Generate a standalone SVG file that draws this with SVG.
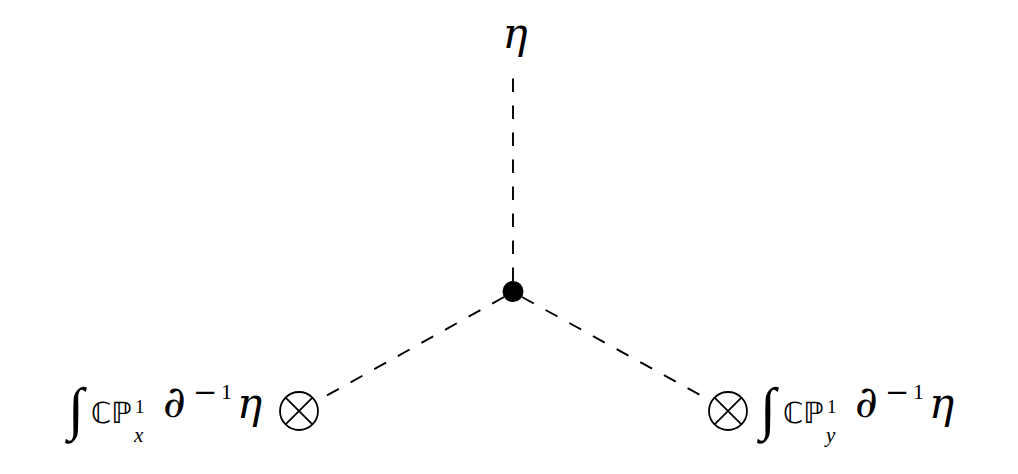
<svg xmlns="http://www.w3.org/2000/svg" width="1018" height="474" viewBox="0 0 1018 474">
<style>
.dash{stroke:#000;stroke-width:1.9;stroke-dasharray:13.5 13.5;fill:none}
.ot{stroke:#000;stroke-width:1.8;fill:#fff}
.m{font-family:"Liberation Serif","DejaVu Serif",serif;fill:#000}
.g{font-family:"DejaVu Serif",serif;font-style:italic;fill:#000}
.i{font-style:italic}
.bb{font-family:"DejaVu Sans",sans-serif;fill:#000}
</style>
<rect width="1018" height="474" fill="#fff"/>
<g id="connectors">
<line class="dash" x1="513" y1="281" x2="513" y2="73"/>
<line class="dash" x1="504" y1="297" x2="317" y2="401"/>
<line class="dash" x1="522" y1="297" x2="711" y2="401"/>
</g>
<g id="vertex">
<circle cx="513" cy="291.5" r="10.5" fill="#000"/>
</g>
<g id="top-label">
<text class="g" x="515" y="48" font-size="42" text-anchor="middle">η</text>
</g>
<g id="left-node">
<circle class="ot" cx="299" cy="411" r="19"/>
<path d="M285.6 397.6L312.4 424.4M312.4 397.6L285.6 424.4" stroke="#000" stroke-width="1.8"/>
<text class="m" x="68" y="428" font-size="58">∫</text>
<text class="bb" x="91" y="423" font-size="29">ℂℙ</text>
<text class="m" x="135" y="413" font-size="19">1</text>
<text class="m i" x="134" y="442" font-size="21">x</text>
<text class="g" x="163" y="417" font-size="44">∂</text>
<text class="bb" x="193" y="402" font-size="29">−</text>
<text class="m" x="221" y="399" font-size="22">1</text>
<text class="g" x="237" y="418" font-size="42">η</text>
</g>
<g id="right-node">
<circle class="ot" cx="728" cy="411" r="19"/>
<path d="M714.6 397.6L741.4 424.4M741.4 397.6L714.6 424.4" stroke="#000" stroke-width="1.8"/>
<text class="m" x="760" y="428" font-size="58">∫</text>
<text class="bb" x="783" y="423" font-size="29">ℂℙ</text>
<text class="m" x="827" y="413" font-size="19">1</text>
<text class="m i" x="826" y="442" font-size="21">y</text>
<text class="g" x="855" y="417" font-size="44">∂</text>
<text class="bb" x="885" y="402" font-size="29">−</text>
<text class="m" x="913" y="399" font-size="22">1</text>
<text class="g" x="929" y="418" font-size="42">η</text>
</g>
</svg>
